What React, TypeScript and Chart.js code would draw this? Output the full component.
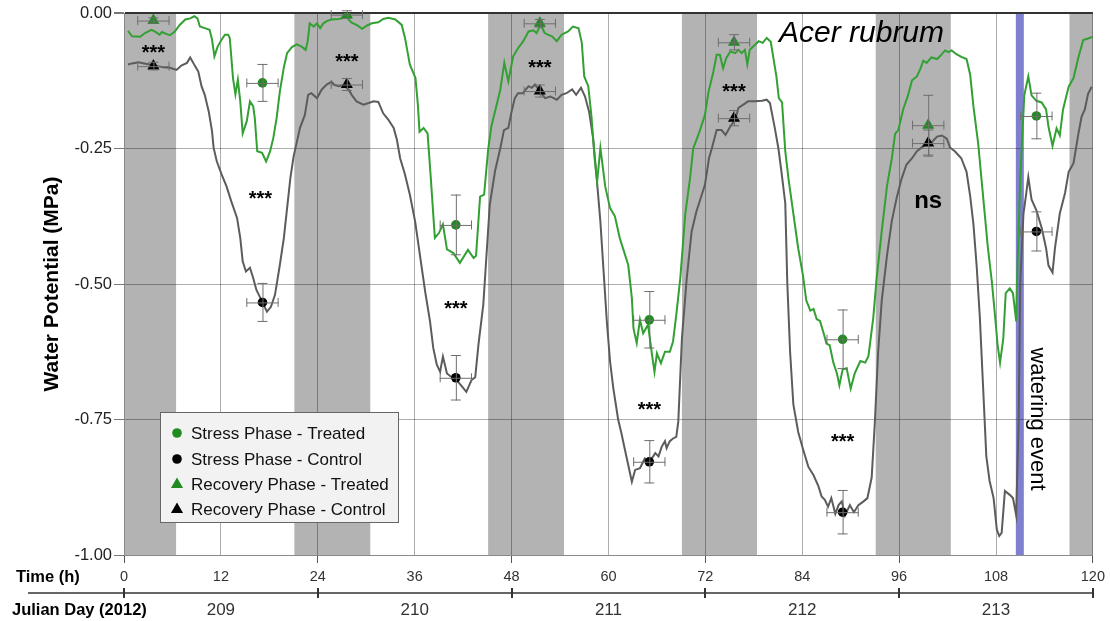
import React, { useEffect, useRef } from 'react';
import { Chart, registerables } from 'chart.js';

Chart.register(...registerables);

const FONT = '"Liberation Sans", Arial, Helvetica, sans-serif';

// Continuous traces (time in hours, water potential in MPa)
const treatedTime = [0.5, 1.0, 2.0, 2.6, 3.4, 3.8, 4.4, 4.7, 5.3, 5.7, 6.3, 6.9, 7.6, 8.2, 8.7, 9.1, 9.4, 10.0, 10.6, 10.9, 11.2, 11.6, 12.1, 12.5, 12.9, 13.1, 13.5, 13.8, 14.1, 14.4, 14.7, 15.2, 15.6, 16.0, 16.2, 16.5, 17.1, 17.6, 18.1, 18.5, 18.9, 19.3, 19.8, 20.2, 20.8, 21.4, 22.0, 22.5, 22.75, 23.0, 23.5, 23.9, 24.3, 24.7, 25.1, 25.7, 26.6, 27.2, 27.6, 27.8, 28.2, 28.8, 29.5, 30.1, 30.7, 31.5, 32.1, 32.75, 33.6, 34.4, 34.8, 35.4, 36.1, 36.4, 36.6, 37.1, 37.6, 38.0, 38.5, 39.0, 39.5, 40.0, 40.8, 41.6, 42.6, 43.3, 43.6, 44.1, 44.6, 45.1, 45.5, 45.9, 46.6, 47.1, 47.6, 48.2, 48.8, 49.45, 50.1, 50.7, 51.1, 51.6, 52.1, 52.5, 53.0, 53.6, 54.2, 55.0, 55.6, 56.3, 56.7, 57.0, 57.5, 57.9, 58.3, 58.6, 59.0, 59.6, 60.2, 60.8, 61.4, 62.45, 62.9, 63.1, 63.5, 63.9, 64.3, 64.9, 65.4, 65.7, 66.0, 66.5, 67.0, 67.6, 68.0, 68.4, 68.9, 69.5, 70.1, 70.5, 71.3, 71.95, 72.4, 73.0, 73.4, 73.8, 74.2, 74.6, 75.1, 75.7, 76.1, 76.5, 76.9, 77.2, 77.5, 78.2, 78.6, 79.1, 79.6, 80.1, 80.8, 81.1, 81.5, 81.9, 82.3, 82.9, 83.5, 84.1, 84.5, 85.0, 85.4, 85.8, 86.2, 86.6, 87.0, 87.4, 87.85, 88.3, 88.6, 89.0, 89.5, 90.0, 90.5, 91.2, 91.8, 92.2, 92.8, 93.2, 93.85, 94.5, 95.1, 95.5, 95.9, 96.5, 97.1, 97.6, 98.2, 98.6, 99.0, 99.4, 100.0, 100.7, 101.1, 101.7, 102.1, 102.5, 103.1, 103.7, 104.35, 104.8, 105.2, 105.8, 106.2, 106.6, 107.0, 107.5, 107.9, 108.2, 108.5, 108.9, 109.2, 109.7, 110.1, 110.5, 110.6, 111.0, 111.5, 112.0, 112.4, 113.0, 113.65, 114.2, 114.5, 115.0, 115.5, 115.9, 116.3, 117.0, 117.6, 118.2, 118.8, 119.4, 119.95];
const treatedWP = [-0.033, -0.043, -0.044, -0.037, -0.031, -0.034, -0.040, -0.035, -0.039, -0.041, -0.034, -0.022, -0.012, -0.010, -0.006, -0.010, -0.025, -0.028, -0.031, -0.049, -0.080, -0.062, -0.049, -0.040, -0.040, -0.046, -0.120, -0.150, -0.123, -0.163, -0.222, -0.200, -0.163, -0.172, -0.194, -0.255, -0.258, -0.274, -0.255, -0.230, -0.194, -0.145, -0.100, -0.074, -0.063, -0.058, -0.062, -0.068, -0.052, -0.019, -0.025, -0.019, -0.028, -0.019, -0.015, -0.012, -0.011, -0.009, -0.001, -0.012, -0.018, -0.022, -0.029, -0.023, -0.019, -0.017, -0.011, -0.009, -0.012, -0.022, -0.046, -0.095, -0.120, -0.170, -0.219, -0.212, -0.222, -0.305, -0.415, -0.406, -0.390, -0.436, -0.443, -0.461, -0.437, -0.452, -0.448, -0.339, -0.335, -0.252, -0.209, -0.185, -0.142, -0.092, -0.126, -0.080, -0.065, -0.052, -0.034, -0.032, -0.037, -0.022, -0.037, -0.040, -0.043, -0.052, -0.040, -0.034, -0.025, -0.028, -0.055, -0.117, -0.135, -0.191, -0.271, -0.311, -0.249, -0.320, -0.360, -0.375, -0.415, -0.465, -0.526, -0.582, -0.609, -0.566, -0.591, -0.575, -0.631, -0.662, -0.628, -0.646, -0.625, -0.625, -0.606, -0.557, -0.489, -0.373, -0.305, -0.250, -0.218, -0.188, -0.145, -0.108, -0.077, -0.077, -0.102, -0.083, -0.071, -0.074, -0.068, -0.074, -0.068, -0.095, -0.068, -0.058, -0.052, -0.055, -0.046, -0.053, -0.117, -0.157, -0.165, -0.255, -0.306, -0.370, -0.434, -0.485, -0.530, -0.549, -0.546, -0.565, -0.568, -0.588, -0.610, -0.613, -0.645, -0.665, -0.687, -0.658, -0.655, -0.693, -0.665, -0.642, -0.645, -0.633, -0.562, -0.492, -0.402, -0.319, -0.268, -0.223, -0.216, -0.178, -0.152, -0.124, -0.117, -0.104, -0.088, -0.092, -0.082, -0.085, -0.079, -0.069, -0.072, -0.069, -0.076, -0.081, -0.085, -0.114, -0.172, -0.242, -0.306, -0.370, -0.434, -0.498, -0.562, -0.613, -0.645, -0.601, -0.517, -0.508, -0.517, -0.569, -0.498, -0.306, -0.152, -0.117, -0.152, -0.162, -0.165, -0.178, -0.210, -0.245, -0.213, -0.226, -0.178, -0.136, -0.120, -0.082, -0.050, -0.047, -0.044];

const controlTime = [0.5, 1.0, 1.8, 2.5, 3.2, 4.1, 4.9, 5.7, 6.5, 7.1, 7.8, 8.2, 8.8, 9.2, 9.6, 10.0, 10.5, 10.9, 11.1, 11.5, 12.1, 12.7, 13.3, 14.0, 14.4, 14.7, 15.1, 15.6, 16.0, 16.4, 16.9, 17.7, 18.2, 18.7, 19.3, 19.8, 20.2, 20.6, 21.0, 21.8, 22.4, 22.8, 23.2, 23.9, 24.5, 25.1, 25.7, 26.1, 26.6, 27.2, 27.8, 28.2, 28.8, 29.65, 30.3, 30.9, 31.5, 32.1, 32.75, 33.4, 33.8, 34.2, 34.8, 35.4, 36.06, 36.7, 37.3, 37.9, 38.3, 38.74, 39.15, 39.5, 40.0, 40.5, 41.0, 41.8, 42.4, 43.05, 43.5, 43.9, 44.5, 44.9, 45.3, 45.95, 46.6, 47.06, 47.6, 48.0, 48.4, 48.8, 49.4, 50.1, 50.5, 50.9, 51.5, 52.15, 52.8, 53.6, 54.2, 54.8, 55.5, 56.0, 56.6, 57.1, 57.6, 58.1, 58.55, 59.0, 59.4, 59.8, 60.2, 60.6, 61.2, 61.6, 62.0, 62.9, 63.3, 63.9, 64.5, 65.1, 65.8, 66.2, 66.6, 67.0, 67.2, 67.6, 68.0, 68.4, 68.65, 69.1, 69.7, 70.3, 70.9, 71.5, 71.95, 72.45, 72.8, 73.4, 74.0, 74.5, 75.1, 75.7, 76.1, 76.7, 77.3, 78.2, 79.0, 79.6, 80.0, 80.6, 81.05, 81.4, 81.9, 82.15, 82.5, 82.9, 83.5, 84.1, 84.75, 85.4, 86.0, 86.4, 86.8, 87.2, 87.6, 88.1, 88.5, 88.9, 89.3, 89.9, 90.4, 90.95, 91.6, 92.07, 92.6, 93.0, 93.4, 93.85, 94.5, 95.1, 95.7, 96.3, 96.9, 97.6, 98.2, 98.8, 99.4, 100.0, 100.7, 101.3, 101.9, 102.3, 102.9, 103.7, 104.35, 104.8, 105.2, 105.6, 106.0, 106.4, 106.8, 107.2, 107.7, 108.1, 108.4, 108.7, 109.1, 109.7, 110.1, 110.5, 110.8, 111.0, 111.4, 111.7, 112.0, 112.4, 113.0, 113.65, 114.2, 114.5, 115.0, 115.3, 115.9, 116.55, 117.0, 117.6, 118.2, 118.6, 119.0, 119.4, 119.85];
const controlWP = [-0.095, -0.093, -0.091, -0.093, -0.095, -0.098, -0.100, -0.101, -0.105, -0.097, -0.092, -0.082, -0.098, -0.108, -0.135, -0.151, -0.182, -0.218, -0.249, -0.274, -0.298, -0.320, -0.348, -0.378, -0.415, -0.458, -0.477, -0.470, -0.489, -0.511, -0.526, -0.551, -0.542, -0.520, -0.465, -0.415, -0.360, -0.305, -0.265, -0.212, -0.188, -0.151, -0.148, -0.157, -0.141, -0.132, -0.127, -0.133, -0.135, -0.133, -0.141, -0.151, -0.163, -0.169, -0.166, -0.163, -0.164, -0.185, -0.197, -0.212, -0.234, -0.268, -0.298, -0.335, -0.385, -0.452, -0.514, -0.569, -0.618, -0.649, -0.662, -0.634, -0.665, -0.671, -0.674, -0.688, -0.699, -0.677, -0.672, -0.612, -0.538, -0.446, -0.354, -0.292, -0.250, -0.216, -0.212, -0.182, -0.157, -0.148, -0.148, -0.135, -0.138, -0.132, -0.144, -0.157, -0.154, -0.160, -0.151, -0.148, -0.141, -0.151, -0.138, -0.154, -0.182, -0.231, -0.305, -0.385, -0.477, -0.569, -0.643, -0.692, -0.750, -0.775, -0.803, -0.865, -0.843, -0.840, -0.822, -0.828, -0.812, -0.818, -0.800, -0.790, -0.803, -0.790, -0.785, -0.782, -0.754, -0.600, -0.489, -0.403, -0.366, -0.338, -0.317, -0.268, -0.250, -0.216, -0.216, -0.225, -0.209, -0.197, -0.175, -0.169, -0.163, -0.163, -0.162, -0.160, -0.166, -0.212, -0.250, -0.290, -0.351, -0.498, -0.626, -0.722, -0.773, -0.805, -0.837, -0.853, -0.873, -0.892, -0.898, -0.911, -0.895, -0.924, -0.908, -0.901, -0.927, -0.908, -0.921, -0.908, -0.901, -0.895, -0.857, -0.754, -0.626, -0.530, -0.447, -0.383, -0.341, -0.306, -0.280, -0.268, -0.255, -0.248, -0.242, -0.239, -0.228, -0.226, -0.232, -0.248, -0.255, -0.268, -0.293, -0.338, -0.389, -0.466, -0.562, -0.690, -0.818, -0.863, -0.895, -0.953, -0.965, -0.959, -0.882, -0.889, -0.895, -0.927, -0.754, -0.498, -0.370, -0.338, -0.303, -0.344, -0.364, -0.396, -0.434, -0.466, -0.479, -0.434, -0.370, -0.332, -0.293, -0.277, -0.223, -0.191, -0.178, -0.149, -0.136];

// Discrete measurements
const stressTimes = [17.15, 41.1, 65.06, 89.0, 113.0];
const stressTreated = [-0.129, -0.391, -0.566, -0.602, -0.19];
const stressTreatedErr = [0.035, 0.056, 0.053, 0.055, 0.043];
const stressControl = [-0.534, -0.673, -0.828, -0.921, -0.403];
const stressControlErr = [0.036, 0.042, 0.04, 0.041, 0.037];
const recoveryTimes = [3.64, 27.6, 51.5, 75.55, 99.6];
const recoveryTreated = [-0.014, -0.003, -0.019, -0.054, -0.207];
const recoveryTreatedErr = [0.006, 0.008, 0.008, 0.015, 0.056];
const recoveryControl = [-0.098, -0.132, -0.144, -0.194, -0.24];
const recoveryControlErr = [0.008, 0.012, 0.012, 0.015, 0.025];
const timeErr = 2.0;

// Significance labels
const sigText = ['***', '***', '***', '***', '***', '***', '***', '***', 'ns'];
const sigTimes = [3.64, 16.9, 27.6, 41.1, 51.5, 65.06, 75.55, 89.0, 99.6];
const sigValues = [-0.065, -0.334, -0.083, -0.537, -0.094, -0.725, -0.138, -0.783, -0.347];

// Night periods and watering event
const nightStart = [0, 21.1, 45.1, 69.1, 93.1, 117.1];
const nightEnd = [6.45, 30.5, 54.5, 78.4, 102.4, 120];
const wateringTime = 110.95;

// Axis labels
const dayBounds = [0, 24, 48, 72, 96, 120];
const dayCenters = [12, 36, 60, 84, 108];
const dayLabels = ['209', '210', '211', '212', '213'];

const GREEN_LINE = '#33a033';
const GREEN_MARK = '#218a21';
const GRAY_LINE = '#5c5c5c';

const legendItems = [
  { label: 'Stress Phase - Treated', color: GREEN_MARK, shape: 'circle' },
  { label: 'Stress Phase - Control', color: '#000000', shape: 'circle' },
  { label: 'Recovery Phase - Treated', color: GREEN_MARK, shape: 'triangle' },
  { label: 'Recovery Phase - Control', color: '#000000', shape: 'triangle' },
];

function pts(xs: number[], ys: number[]) {
  return xs.map((x, i) => ({ x, y: ys[i] }));
}

function drawMarker(ctx: CanvasRenderingContext2D, shape: string, x: number, y: number, color: string) {
  ctx.save();
  ctx.fillStyle = color;
  ctx.beginPath();
  if (shape === 'circle') {
    ctx.arc(x, y, 4.8, 0, Math.PI * 2);
  } else {
    const r = 7;
    ctx.moveTo(x, y - r);
    ctx.lineTo(x + r * 0.866, y + r * 0.5);
    ctx.lineTo(x - r * 0.866, y + r * 0.5);
    ctx.closePath();
  }
  ctx.fill();
  ctx.restore();
}

const backgroundPlugin = {
  id: 'bands',
  beforeDraw(chart: any) {
    const { ctx, chartArea, scales } = chart;
    const xs = scales.x;
    ctx.save();
    ctx.fillStyle = '#ffffff';
    ctx.fillRect(0, 0, chart.width, chart.height);
    ctx.fillStyle = '#b3b3b3';
    for (let i = 0; i < nightStart.length; i++) {
      const a = xs.getPixelForValue(nightStart[i]);
      const b = xs.getPixelForValue(nightEnd[i]);
      ctx.fillRect(a, chartArea.top, b - a, chartArea.bottom - chartArea.top);
    }
    const w = xs.getPixelForValue(wateringTime);
    ctx.fillStyle = '#7f7fcf';
    ctx.fillRect(w - 4, chartArea.top, 8, chartArea.bottom - chartArea.top);
    ctx.restore();
  },
};

const errorBarPlugin = {
  id: 'errbars',
  afterDatasetsDraw(chart: any) {
    const { ctx, scales } = chart;
    const xs = scales.x;
    const ys = scales.y;
    const groups = [
      { t: stressTimes, v: stressTreated, e: stressTreatedErr },
      { t: stressTimes, v: stressControl, e: stressControlErr },
      { t: recoveryTimes, v: recoveryTreated, e: recoveryTreatedErr },
      { t: recoveryTimes, v: recoveryControl, e: recoveryControlErr },
    ];
    ctx.save();
    ctx.strokeStyle = '#6f6f6f';
    ctx.lineWidth = 1;
    for (const g of groups) {
      for (let i = 0; i < g.t.length; i++) {
        const x = xs.getPixelForValue(g.t[i]);
        const y = ys.getPixelForValue(g.v[i]);
        const x1 = xs.getPixelForValue(g.t[i] - timeErr);
        const x2 = xs.getPixelForValue(g.t[i] + timeErr);
        const y1 = ys.getPixelForValue(g.v[i] + g.e[i]);
        const y2 = ys.getPixelForValue(g.v[i] - g.e[i]);
        ctx.beginPath();
        ctx.moveTo(x1, y + 0.5); ctx.lineTo(x2, y + 0.5);
        ctx.moveTo(x1 + 0.5, y - 4.5); ctx.lineTo(x1 + 0.5, y + 4.5);
        ctx.moveTo(x2 - 0.5, y - 4.5); ctx.lineTo(x2 - 0.5, y + 4.5);
        ctx.moveTo(x + 0.5, y1); ctx.lineTo(x + 0.5, y2);
        ctx.moveTo(x - 5, y1 + 0.5); ctx.lineTo(x + 5, y1 + 0.5);
        ctx.moveTo(x - 5, y2 - 0.5); ctx.lineTo(x + 5, y2 - 0.5);
        ctx.stroke();
      }
    }
    ctx.restore();
  },
};

const annotationPlugin = {
  id: 'annot',
  afterDraw(chart: any) {
    const { ctx, chartArea, scales } = chart;
    const xs = scales.x;
    const ys = scales.y;
    ctx.save();
    // significance
    ctx.fillStyle = '#000';
    ctx.textAlign = 'center';
    ctx.textBaseline = 'alphabetic';
    for (let i = 0; i < sigText.length; i++) {
      const x = xs.getPixelForValue(sigTimes[i]);
      const y = ys.getPixelForValue(sigValues[i]);
      if (sigText[i] === 'ns') {
        ctx.font = `bold 24px ${FONT}`;
        ctx.fillText(sigText[i], x, y + 6.5);
      } else {
        ctx.font = `bold 20px ${FONT}`;
        ctx.fillText(sigText[i], x, y + 10.5);
      }
    }
    // species
    ctx.font = `italic 30px ${FONT}`;
    ctx.textAlign = 'left';
    ctx.fillText('Acer rubrum', 779, 41.5);
    // watering event
    ctx.save();
    ctx.translate(1037, 419);
    ctx.rotate(Math.PI / 2);
    ctx.font = `22px ${FONT}`;
    ctx.textAlign = 'center';
    ctx.textBaseline = 'middle';
    ctx.fillText('watering event', 0, 0);
    ctx.restore();

    // y title
    ctx.save();
    ctx.translate(52, 284);
    ctx.rotate(-Math.PI / 2);
    ctx.font = `bold 21px ${FONT}`;
    ctx.textAlign = 'center';
    ctx.textBaseline = 'middle';
    ctx.fillStyle = '#000';
    ctx.fillText('Water Potential (MPa)', 0, 0);
    ctx.restore();

    // x axis titles
    ctx.font = `bold 16.5px ${FONT}`;
    ctx.textAlign = 'left';
    ctx.textBaseline = 'middle';
    ctx.fillStyle = '#000';
    ctx.fillText('Time (h)', 16, 577);
    ctx.fillText('Julian Day (2012)', 12, 610);

    // Julian day axis
    ctx.strokeStyle = '#333';
    ctx.lineWidth = 1.5;
    ctx.beginPath();
    ctx.moveTo(28, 593);
    ctx.lineTo(chartArea.right, 593);
    ctx.stroke();
    ctx.lineWidth = 2;
    for (const d of dayBounds) {
      const x = Math.round(xs.getPixelForValue(d));
      ctx.beginPath();
      ctx.moveTo(x, 588);
      ctx.lineTo(x, 598);
      ctx.stroke();
    }
    ctx.font = `17px ${FONT}`;
    ctx.fillStyle = '#333';
    ctx.textAlign = 'center';
    for (let i = 0; i < dayLabels.length; i++) {
      ctx.fillText(dayLabels[i], xs.getPixelForValue(dayCenters[i]), 610);
    }

    // legend
    const lx = 160.5, ly = 412.5, lw = 238, lh = 110;
    ctx.fillStyle = '#f2f2f2';
    ctx.fillRect(lx, ly, lw, lh);
    ctx.strokeStyle = '#666';
    ctx.lineWidth = 1;
    ctx.strokeRect(lx, ly, lw, lh);
    ctx.font = `17px ${FONT}`;
    ctx.textAlign = 'left';
    ctx.textBaseline = 'middle';
    const rows = [433, 459, 484, 509];
    legendItems.forEach((it, i) => {
      drawMarker(ctx, it.shape, 177, rows[i] + (it.shape === 'triangle' ? 0.5 : 0), it.color);
      ctx.fillStyle = '#111';
      ctx.fillText(it.label, 191, rows[i] + 1);
    });
    ctx.restore();
  },
};

export default function App() {
  const ref = useRef<HTMLCanvasElement | null>(null);
  useEffect(() => {
    document.body.style.margin = '0';
    const canvas = ref.current;
    if (!canvas) return;
    const gridColor = 'rgba(0,0,0,0.32)';
    const chart = new Chart(canvas, {
      type: 'scatter',
      data: {
        datasets: [
          { label: 'Stress Phase - Treated', data: pts(stressTimes, stressTreated), pointStyle: 'circle', pointRadius: 4.8, backgroundColor: GREEN_MARK, borderColor: GREEN_MARK, borderWidth: 0, showLine: false },
          { label: 'Stress Phase - Control', data: pts(stressTimes, stressControl), pointStyle: 'circle', pointRadius: 4.8, backgroundColor: '#000', borderColor: '#000', borderWidth: 0, showLine: false },
          { label: 'Recovery Phase - Treated', data: pts(recoveryTimes, recoveryTreated), pointStyle: 'triangle', pointRadius: 7, backgroundColor: GREEN_MARK, borderColor: GREEN_MARK, borderWidth: 0, showLine: false },
          { label: 'Recovery Phase - Control', data: pts(recoveryTimes, recoveryControl), pointStyle: 'triangle', pointRadius: 7, backgroundColor: '#000', borderColor: '#000', borderWidth: 0, showLine: false },
          { label: 'Treated', data: pts(treatedTime, treatedWP), showLine: true, borderColor: GREEN_LINE, borderWidth: 2, pointRadius: 0, tension: 0, fill: false },
          { label: 'Control', data: pts(controlTime, controlWP), showLine: true, borderColor: GRAY_LINE, borderWidth: 2, pointRadius: 0, tension: 0, fill: false },
        ] as any,
      },
      options: {
        responsive: false,
        animation: false,
        events: [],
        layout: { padding: { left: 0, right: 17, top: 13, bottom: 0 } },
        plugins: { legend: { display: false }, tooltip: { enabled: false } },
        scales: {
          x: {
            type: 'linear',
            min: 0,
            max: 120,
            ticks: { stepSize: 12, autoSkip: false, maxRotation: 0, color: '#333', padding: 5, font: { size: 14.5, family: FONT } },
            grid: {
              color: gridColor,
              tickLength: 8,
              tickColor: (c: any) => (Math.round(c.tick?.value ?? 1) % 24 === 0 ? '#555' : 'rgba(0,0,0,0)'),
            },
            border: { color: '#8a8a8a' },
            afterFit: (s: any) => { s.height = 66; },
          } as any,
          y: {
            min: -1,
            max: 0,
            ticks: { stepSize: 0.25, color: '#222', padding: 2, font: { size: 16.5, family: FONT }, callback: (v: any) => Number(v).toFixed(2) },
            grid: {
              color: (c: any) => (Math.abs(c.tick?.value ?? 1) < 1e-6 ? '#333' : gridColor),
              lineWidth: (c: any) => (Math.abs(c.tick?.value ?? 1) < 1e-6 ? 2 : 1),
              tickLength: 10,
              tickColor: '#777',
            },
            border: { color: '#8a8a8a' },
            afterFit: (s: any) => { s.width = 124; },
          } as any,
        },
      },
      plugins: [backgroundPlugin, errorBarPlugin, annotationPlugin],
    });
    return () => chart.destroy();
  }, []);
  return (
    <div style={{ width: 1110, height: 621, position: 'relative' }}>
      <canvas ref={ref} width={1110} height={621} style={{ display: 'block' }} />
    </div>
  );
}
